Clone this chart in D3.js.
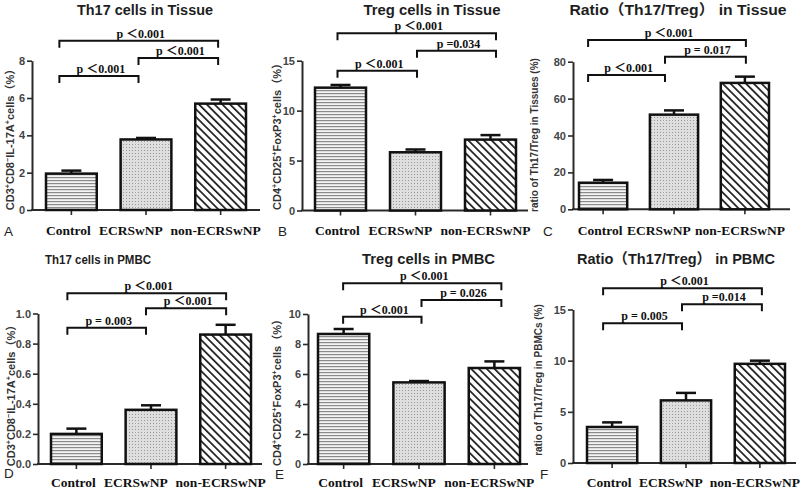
<!DOCTYPE html>
<html><head><meta charset="utf-8">
<script src="https://cdn.jsdelivr.net/npm/d3@7"></script>
<style>body{margin:0;background:#fff}svg{display:block}</style>
</head><body><svg id="c" width="800" height="491"></svg>
<script>
// ---------- data ----------
const categories = ["Control", "ECRSwNP", "non-ECRSwNP"];
const panelLetters = ["A", "B", "C", "D", "E", "F"];
const titles = ["Th17 cells in Tissue", "Treg cells in Tissue", "Ratio（Th17/Treg） in Tissue",
                "Th17 cells in PMBC", "Treg cells in PMBC", "Ratio（Th17/Treg） in PBMC"];

const th17TissueMean = [1.95, 3.78, 5.70];
const th17TissueErr  = [0.16, 0.08, 0.22];
const tregTissueMean = [12.3, 5.83, 7.1];
const tregTissueErr  = [0.27, 0.28, 0.45];
const ratioTissueMean = [14.4, 51.3, 68.5];
const ratioTissueErr  = [1.5, 2.3, 3.4];
const th17PbmcMean = [0.20, 0.36, 0.86];
const th17PbmcErr  = [0.035, 0.03, 0.065];
const tregPbmcMean = [8.67, 5.44, 6.4];
const tregPbmcErr  = [0.33, 0.09, 0.44];
const ratioPbmcMean = [3.52, 6.12, 9.69];
const ratioPbmcErr  = [0.45, 0.73, 0.31];

const ticksA = [0, 2, 4, 6, 8];
const ticksB = [0, 5, 10, 15];
const ticksC = [0, 20, 40, 60, 80];
const ticksD = [0, 0.2, 0.4, 0.6, 0.8, 1.0];
const ticksE = [0, 2, 4, 6, 8, 10];
const ticksF = [0, 5, 10, 15];

// p-values: [Control vs ECRSwNP, ECRSwNP vs non-ECRSwNP, Control vs non-ECRSwNP]
const pA = ["p ＜0.001", "p ＜0.001", "p ＜0.001"];
const pB = ["p ＜0.001", "p =0.034", "p ＜0.001"];
const pC = ["p ＜0.001", "p = 0.017", "p ＜0.001"];
const pD = ["p = 0.003", "p ＜0.001", "p ＜0.001"];
const pE = ["p ＜0.001", "p = 0.026", "p ＜0.001"];
const pF = ["p = 0.005", "p =0.014", "p ＜0.001"];
// bracket levels (data units)
const bracketA = [7.18, 8.14, 9.07];
const bracketB = [14.0, 16.0, 17.74];
const bracketC = [72.8, 82.7, 91.8];
const bracketD = [0.906, 1.035, 1.134];
const bracketE = [9.82, 10.93, 12.05];
const bracketF = [13.66, 15.51, 17.08];

const labelTh17 = [["CD3", 0], ["+", 1], ["CD8", 0], ["−", 1], ["IL-17A", 0], ["+", 1], ["cells（%）", 0]];
const labelTreg = [["CD4", 0], ["+", 1], ["CD25", 0], ["+", 1], ["FoxP3", 0], ["+", 1], ["cells（%）", 0]];
const labelRatioTissue = [["ratio of Th17/Treg in Tissues (%)", 0]];
const labelRatioPbmc = [["ratio of Th17/Treg in PBMCs (%)", 0]];

// ---------- layout ----------
const panels = [
  {mean: th17TissueMean, err: th17TissueErr, ticks: ticksA, fmt: d3.format("d"), p: pA, br: bracketA, lab: labelTh17, labSize: 11,
   axisX: 32, y0: 210, y1: 60.7, barL: 46, barR: 246, xEnd: 260, titleX: 145, titleY: 14.5, titleSize: 14.5, titleLen: 136,
   labX: 14, labY: 137, letX: 4, letY: 236, catY: 235, bdx: [-12, -7.5, -2.5]},
  {mean: tregTissueMean, err: tregTissueErr, ticks: ticksB, fmt: d3.format("d"), p: pB, br: bracketB, lab: labelTreg, labSize: 11,
   axisX: 302, y0: 210.5, y1: 60.7, barL: 315, barR: 516, xEnd: 528, titleX: 432, titleY: 14.5, titleSize: 14.5, titleLen: 137,
   labX: 281, labY: 134, letX: 278, letY: 236, catY: 235, bdx: [-3, 1.5, 5.5]},
  {mean: ratioTissueMean, err: ratioTissueErr, ticks: ticksC, fmt: d3.format("d"), p: pC, br: bracketC, lab: labelRatioTissue, labSize: 10,
   axisX: 573, y0: 209.3, y1: 61.7, barL: 579, barR: 769, xEnd: 790, titleX: 678, titleY: 14.5, titleSize: 14.5, titleLen: 217,
   labX: 538, labY: 135, letX: 543, letY: 236, catY: 235, bdx: [-15, -9, 1]},
  {mean: th17PbmcMean, err: th17PbmcErr, ticks: ticksD, fmt: d3.format(".1f"), p: pD, br: bracketD, lab: labelTh17, labSize: 11,
   axisX: 38, y0: 464, y1: 313.5, barL: 51, barR: 251, xEnd: 262, titleX: 98, titleY: 264, titleSize: 13.5, titleLen: 106,
   labX: 15, labY: 393, letX: 4, letY: 478, catY: 487, bdx: [-9, -5, 0.5]},
  {mean: tregPbmcMean, err: tregPbmcErr, ticks: ticksE, fmt: d3.format("d"), p: pE, br: bracketE, lab: labelTreg, labSize: 11,
   axisX: 308, y0: 464, y1: 314, barL: 318, barR: 520, xEnd: 528, titleX: 428.5, titleY: 264, titleSize: 14.5, titleLen: 133,
   labX: 281, labY: 390, letX: 275, letY: 479, catY: 487, bdx: [-0.5, 2.5, 7]},
  {mean: ratioPbmcMean, err: ratioPbmcErr, ticks: ticksF, fmt: d3.format("d"), p: pF, br: bracketF, lab: labelRatioPbmc, labSize: 10,
   axisX: 573, y0: 463, y1: 309.5, barL: 587, barR: 785, xEnd: 796, titleX: 676, titleY: 264, titleSize: 14.5, titleLen: 198,
   labX: 542, labY: 380, letX: 540, letY: 479, catY: 487, bdx: [-9, -4, 2]}
];
const catDx = [-3, -15, -5];

const svg = d3.select("#c");
const defs = svg.append("defs");
// horizontal lines
const ph = defs.append("pattern").attr("id", "pat0").attr("patternUnits", "userSpaceOnUse").attr("width", 6).attr("height", 3);
ph.append("rect").attr("width", 6).attr("height", 3).attr("fill", "#f4f4f4");
ph.append("rect").attr("width", 6).attr("height", 1.2).attr("fill", "#8a8a8a");
// dots
const pd = defs.append("pattern").attr("id", "pat1").attr("patternUnits", "userSpaceOnUse").attr("width", 3).attr("height", 3);
pd.append("rect").attr("width", 3).attr("height", 3).attr("fill", "#dedede");
pd.append("rect").attr("width", 1).attr("height", 1).attr("fill", "#9a9a9a");
// diagonal
const pg = defs.append("pattern").attr("id", "pat2").attr("patternUnits", "userSpaceOnUse").attr("width", 5.5).attr("height", 10)
  .attr("patternTransform", "rotate(-45)");
pg.append("rect").attr("width", 5.5).attr("height", 10).attr("fill", "#fff");
pg.append("rect").attr("width", 1.7).attr("height", 10).attr("fill", "#1a1a1a");

const sans = "'Liberation Sans', Arial, 'Noto Sans CJK SC', sans-serif";
const serif = "'Liberation Serif', 'Times New Roman', 'Noto Sans CJK SC', serif";

panels.forEach((P, k) => {
  const g = svg.append("g");
  const x = d3.scaleBand().domain(categories).range([P.barL, P.barR]).paddingInner(0.32).paddingOuter(0);
  const yMax = P.ticks[P.ticks.length - 1];
  const y = d3.scaleLinear().domain([0, yMax]).range([P.y0, P.y1]);
  const cx = c => x(c) + x.bandwidth() / 2;

  // title
  g.append("text").attr("x", P.titleX).attr("y", P.titleY).attr("text-anchor", "middle")
    .attr("font-family", sans).attr("font-weight", "bold").attr("font-size", P.titleSize).attr("fill", "#1e1e1e")
    .attr("textLength", P.titleLen).attr("lengthAdjust", "spacingAndGlyphs").text(titles[k]);

  // y axis
  const ya = g.append("g").attr("transform", `translate(${P.axisX},0)`)
    .call(d3.axisLeft(y).tickValues(P.ticks).tickFormat(P.fmt).tickSize(5).tickSizeOuter(0));
  ya.select(".domain").attr("stroke", "#2a2a2a").attr("stroke-width", 2);
  ya.selectAll(".tick line").attr("stroke", "#2a2a2a").attr("stroke-width", 1.6);
  ya.selectAll(".tick text").attr("font-family", sans).attr("font-weight", "bold").attr("font-size", 11)
    .attr("fill", "#444").attr("x", -7);

  // x axis
  g.append("line").attr("x1", P.axisX - 1).attr("x2", P.xEnd).attr("y1", y(0)).attr("y2", y(0))
    .attr("stroke", "#2a2a2a").attr("stroke-width", 2);
  const xa = g.append("g").attr("transform", `translate(0,${y(0)})`)
    .call(d3.axisBottom(x).tickSize(5).tickFormat(""));
  xa.select(".domain").remove();
  xa.selectAll(".tick line").attr("stroke", "#2a2a2a").attr("stroke-width", 1.6);

  // error bars
  categories.forEach((c, i) => {
    const top = y(P.mean[i] + P.err[i]);
    g.append("line").attr("x1", cx(c)).attr("x2", cx(c)).attr("y1", y(P.mean[i])).attr("y2", top)
      .attr("stroke", "#111").attr("stroke-width", 2.5);
    g.append("line").attr("x1", cx(c) - 10).attr("x2", cx(c) + 10).attr("y1", top).attr("y2", top)
      .attr("stroke", "#111").attr("stroke-width", 2.5);
  });

  // bars
  g.selectAll("rect.bar").data(P.mean).join("rect").attr("class", "bar")
    .attr("x", (d, i) => x(categories[i])).attr("width", x.bandwidth())
    .attr("y", d => y(d)).attr("height", d => y(0) - y(d))
    .attr("fill", (d, i) => `url(#pat${i})`).attr("stroke", "#111").attr("stroke-width", 2.5);

  // category labels
  categories.forEach((c, i) => {
    g.append("text").attr("x", cx(c) + catDx[i]).attr("y", P.catY).attr("text-anchor", "middle")
      .attr("font-family", serif).attr("font-weight", "bold").attr("font-size", 13.5).attr("fill", "#111").text(c);
  });

  // y label
  const yl = g.append("text").attr("transform", `translate(${P.labX},${P.labY}) rotate(-90)`)
    .attr("text-anchor", "middle").attr("font-family", sans).attr("font-weight", "bold")
    .attr("font-size", P.labSize).attr("fill", "#333");
  P.lab.forEach(([t, sup]) => {
    const ts = yl.append("tspan").text(t);
    if (sup) ts.attr("font-size", P.labSize * 0.65).attr("dy", -4);
    else if (yl.selectAll("tspan").size() > 1) ts.attr("dy", 4);
  });

  // panel letter
  g.append("text").attr("x", P.letX).attr("y", P.letY).attr("font-family", sans).attr("font-size", 13.5)
    .attr("fill", "#222").text(panelLetters[k]);

  // significance brackets
  const pairs = [[0, 1], [1, 2], [0, 2]];
  pairs.forEach(([a, b], j) => {
    const xa1 = cx(categories[a]) + P.bdx[a], xb1 = cx(categories[b]) + P.bdx[b];
    const yy = y(P.br[j]);
    g.append("path").attr("d", `M${xa1},${yy + 7}V${yy}H${xb1}V${yy + 7}`)
      .attr("fill", "none").attr("stroke", "#111").attr("stroke-width", 2);
    g.append("text").attr("x", (xa1 + xb1) / 2 + 2).attr("y", yy - 3).attr("text-anchor", "middle")
      .attr("font-family", serif).attr("font-weight", "bold").attr("font-size", 12).attr("fill", "#111").text(P.p[j]);
  });
});
</script></body></html>
